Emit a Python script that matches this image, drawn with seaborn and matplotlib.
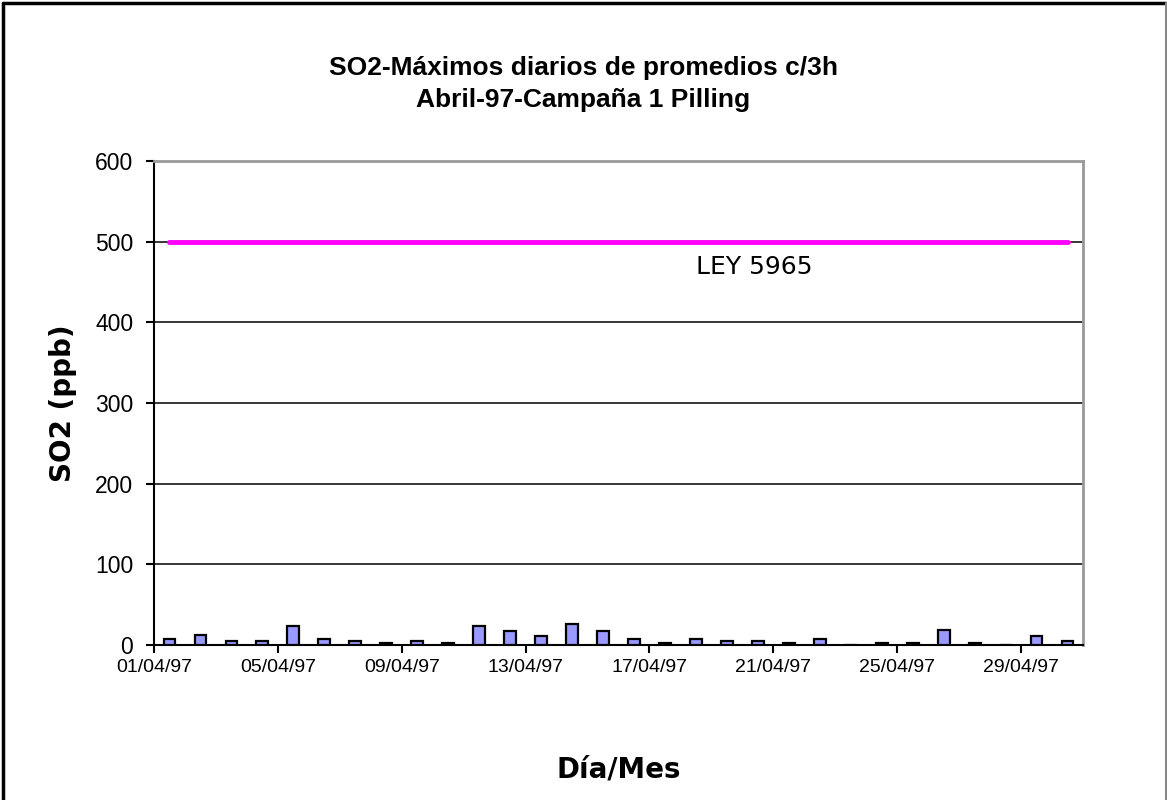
import matplotlib
matplotlib.use("Agg")
import matplotlib.pyplot as plt
import seaborn as sns
import pandas as pd
from matplotlib.lines import Line2D

# Datos
dias = ["%02d/04/97" % d for d in range(1, 31)]
so2 = [8, 12, 5, 5, 23, 8, 5, 3, 5, 3,
       23, 17, 11.5, 25.5, 17, 8, 3, 8, 5, 5,
       3, 8, 0, 3, 3, 19, 3, 0, 11.5, 5]
ley_5965 = [500] * 30

df = pd.DataFrame({"Dia": dias, "SO2": so2, "Ley": ley_5965})

sns.set_theme(style="white")
plt.rcParams["font.family"] = ["Liberation Sans", "DejaVu Sans"]
plt.rcParams["text.color"] = "black"
plt.rcParams["axes.labelcolor"] = "black"

fig = plt.figure(figsize=(11.67, 8), dpi=100)
ax = fig.add_axes([154 / 1167, 1 - 645 / 800, (1083 - 154) / 1167, (645 - 161) / 800])

sns.barplot(data=df, x="Dia", y="SO2", color="#9999FF", saturation=1,
            width=0.38, edgecolor="black", linewidth=1.6, ax=ax, zorder=3)
sns.lineplot(x=range(len(dias)), y=df["Ley"], color="#FF00FF", linewidth=3.5,
             ax=ax, zorder=4)

ax.set_xlim(-0.5, len(dias) - 0.5)
ax.set_ylim(0, 600)
ax.set_yticks(range(0, 700, 100))
ax.set_xticks([i - 0.5 for i in range(0, len(dias), 4)])
ax.set_xticklabels(dias[::4], fontsize=14)

ax.grid(axis="y", color="black", linewidth=1.1, zorder=0)
ax.grid(axis="x", visible=False)
ax.set_axisbelow(True)

for s in ["left", "bottom"]:
    ax.spines[s].set_color("black")
    ax.spines[s].set_linewidth(1.5)
for s in ["top", "right"]:
    ax.spines[s].set_color("#999999")
    ax.spines[s].set_linewidth(2)

ax.tick_params(axis="both", direction="out", length=6, width=1.5, color="black",
               labelcolor="black", left=True, bottom=True)
ax.tick_params(axis="y", pad=9, labelsize=16.5)
ax.tick_params(axis="x", pad=4)

ax.set_xlabel("Día/Mes", fontsize=20, fontweight="bold", family="DejaVu Sans")
ax.xaxis.set_label_coords(0.5, -0.228)
ax.set_ylabel("SO2 (ppb)", fontsize=20, fontweight="bold", family="DejaVu Sans")
ax.yaxis.set_label_coords(-0.083, 0.5)

ax.text(17.0, 468, "LEY 5965", fontsize=18, family="DejaVu Sans", color="black",
        va="center", ha="left")

fig.text(0.5, 1 - 68 / 800, "SO2-Máximos diarios de promedios c/3h",
         ha="center", va="center", fontsize=19, fontweight="bold")
fig.text(0.5, 1 - 100 / 800, "Abril-97-Campaña 1 Pilling",
         ha="center", va="center", fontsize=19, fontweight="bold")

# marco exterior del grafico
fig.add_artist(Line2D([3 / 1167, 3 / 1167], [0, 1 - 3 / 800], color="black", linewidth=2.5))
fig.add_artist(Line2D([3 / 1167, 1166 / 1167], [1 - 3 / 800, 1 - 3 / 800], color="black", linewidth=2.5))
fig.add_artist(Line2D([1166 / 1167, 1166 / 1167], [0, 1 - 3 / 800], color="#888888", linewidth=1.5))

fig.savefig("out.png", dpi=100)
